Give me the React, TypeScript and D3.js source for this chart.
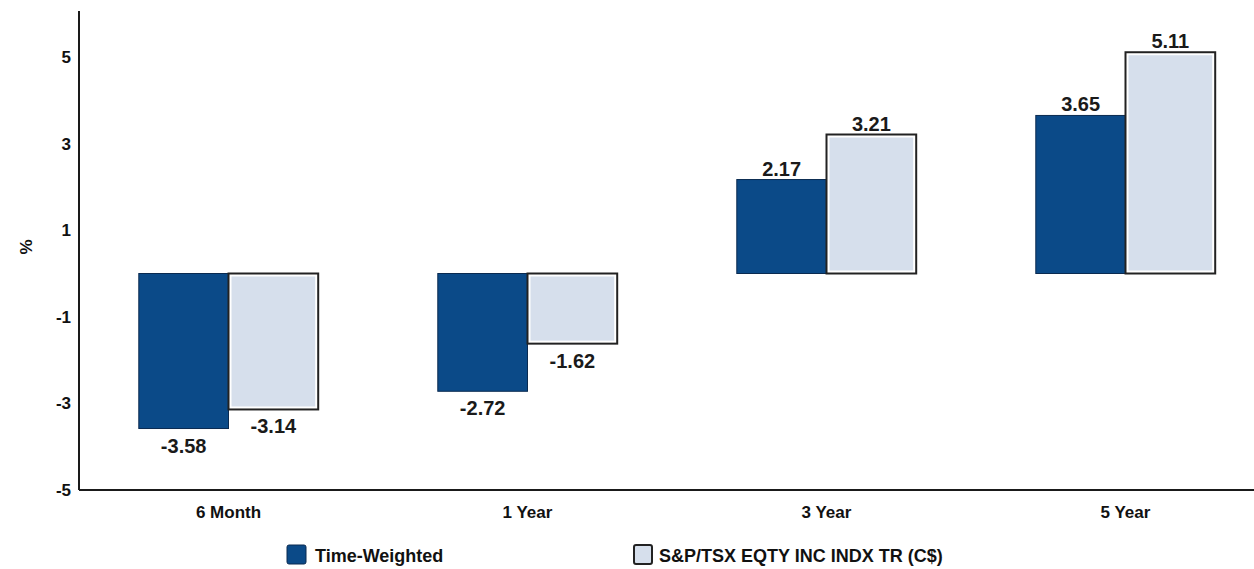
import React from "react";
import * as d3 from "d3";

const categories = ["6 Month", "1 Year", "3 Year", "5 Year"];
const seriesNames = ["Time-Weighted", "S&P/TSX EQTY INC INDX TR (C$)"];
const timeWeighted = [-3.58, -2.72, 2.17, 3.65];
const benchmark = [-3.14, -1.62, 3.21, 5.11];
const yTicks = [-5, -3, -1, 1, 3, 5];

const W = 1254;
const H = 569;
const left = 79;
const right = 1275;
const yTop = 57;
const yBottom = 490;
const DARK = "#0b4a88";
const LIGHT = "#d6dfec";
const FONT = "Liberation Sans, Arial, sans-serif";

export default function App() {
  const x = d3.scaleBand<string>().domain(categories).range([left, right]).paddingInner(0.4).paddingOuter(0.2);
  const xs = d3.scaleBand<string>().domain(["a", "b"]).range([0, x.bandwidth()]).padding(0);
  const y = d3.scaleLinear().domain([-5, 5]).range([yBottom, yTop]);
  const series = [timeWeighted, benchmark];
  const keys = ["a", "b"];

  return (
    <svg width={W} height={H} style={{ position: "absolute", left: 0, top: 0, background: "#fff" }} fontFamily={FONT}>
      <rect x={0} y={0} width={W} height={H} fill="#fff" />
      {/* axes */}
      <line x1={left} x2={left} y1={11} y2={y(-5)} stroke="#1a1a1a" strokeWidth={2} />
      <line x1={left} x2={W} y1={y(-5)} y2={y(-5)} stroke="#1a1a1a" strokeWidth={2} />
      {yTicks.map((t) => (
        <text key={t} x={71} y={y(t) + 6} textAnchor="end" fontSize={17} fontWeight="bold" fill="#111">
          {t}
        </text>
      ))}
      <text transform={`translate(32,247) rotate(-90)`} textAnchor="middle" fontSize={17} fontWeight="bold" fill="#111">
        %
      </text>
      {/* bars */}
      {categories.map((c, i) =>
        series.map((s, j) => {
          const v = s[i];
          const bx = (x(c) as number) + (xs(keys[j]) as number);
          const bw = xs.bandwidth();
          const y0 = y(0);
          const y1 = y(v);
          const top = Math.min(y0, y1);
          const h = Math.abs(y1 - y0);
          return (
            <g key={c + j}>
              {j === 0 ? (
                <rect x={bx} y={top} width={bw} height={h} fill={DARK} stroke="#0a2a50" strokeWidth={1} />
              ) : (
                <g>
                  <rect x={bx} y={top} width={bw} height={h} fill="#fff" stroke="#222" strokeWidth={2} />
                  <rect x={bx + 3} y={top + 3} width={bw - 6} height={h - 6} fill={LIGHT} />
                </g>
              )}
              <text
                x={bx + bw / 2}
                y={v >= 0 ? y1 - 4 : y1 + 24}
                textAnchor="middle"
                fontSize={20}
                fontWeight="bold"
                fill="#1a1a1a"
              >
                {v.toFixed(2)}
              </text>
            </g>
          );
        })
      )}
      {/* category labels */}
      {categories.map((c) => (
        <text key={c} x={(x(c) as number) + x.bandwidth() / 2} y={518} textAnchor="middle" fontSize={17} fontWeight="bold" fill="#111">
          {c}
        </text>
      ))}
      {/* legend */}
      <g>
        <rect x={287} y={545} width={19} height={19} rx={2} fill={DARK} stroke="#0a2a50" strokeWidth={1} />
        <text x={315} y={562} fontSize={18} fontWeight="bold" fill="#111">
          {seriesNames[0]}
        </text>
        <rect x={634} y={545} width={18} height={19} rx={2} fill={LIGHT} stroke="#222" strokeWidth={2} />
        <text x={659} y={562} fontSize={18} fontWeight="bold" fill="#111">
          {seriesNames[1]}
        </text>
      </g>
    </svg>
  );
}
